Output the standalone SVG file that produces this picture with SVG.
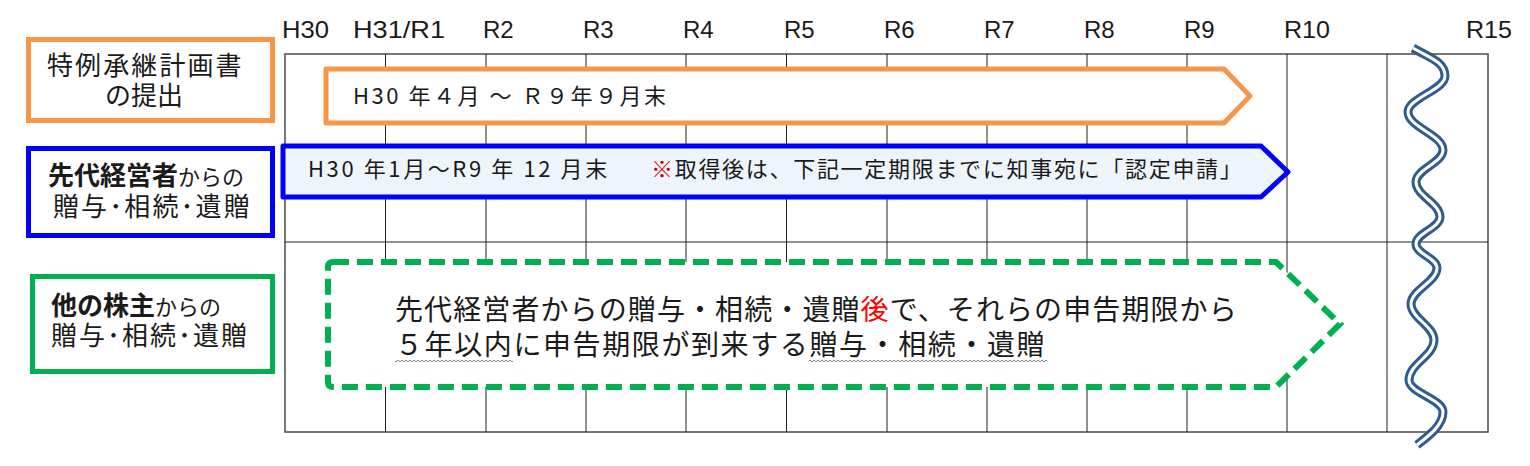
<svg xmlns="http://www.w3.org/2000/svg" width="1530" height="466" viewBox="0 0 1530 466">
  <style>
    .hdr { font-family: "Liberation Sans", Arial, sans-serif; font-size: 24px; fill: #1a1a1a; }
    .jp { font-family: "Noto Sans CJK JP", "Noto Sans", sans-serif; fill: #1a1a1a; }
    .grid { stroke: #222; stroke-width: 1; fill: none; }
    .border { stroke: #555; stroke-width: 1.6; fill: none; }
    .red { fill: #FF0000; }
    .dred { fill: #CC0000; }
  </style>
  <defs>
    <pattern id="wavy" patternUnits="userSpaceOnUse" x="0" y="359" width="4" height="4">
      <polyline points="0,3 2,1 4,3" fill="none" stroke="#777" stroke-width="0.9"/>
    </pattern>
  </defs>
  <rect width="1530" height="466" fill="#fff"/>

  <g id="header">
    <text class="hdr" x="282" y="38" textLength="47" lengthAdjust="spacingAndGlyphs">H30</text>
    <text class="hdr" x="353" y="38" textLength="92" lengthAdjust="spacingAndGlyphs">H31/R1</text>
    <text class="hdr" x="483" y="38">R2</text>
    <text class="hdr" x="583" y="38">R3</text>
    <text class="hdr" x="683" y="38">R4</text>
    <text class="hdr" x="784" y="38">R5</text>
    <text class="hdr" x="884" y="38">R6</text>
    <text class="hdr" x="984" y="38">R7</text>
    <text class="hdr" x="1084" y="38">R8</text>
    <text class="hdr" x="1184" y="38">R9</text>
    <text class="hdr" x="1284" y="38" textLength="46" lengthAdjust="spacingAndGlyphs">R10</text>
    <text class="hdr" x="1466" y="38" textLength="46" lengthAdjust="spacingAndGlyphs">R15</text>
  </g>

  <g id="grid">
    <rect class="border" x="285" y="54" width="1203" height="378"/>
    <path class="grid" d="M385.5,54V432 M486,54V432 M586,54V432 M686,54V432 M786.5,54V432 M887,54V432 M987,54V432 M1087,54V432 M1187,54V432 M1287,54V432 M1387,54V432 M285,242H1488"/>
  </g>

  <g id="box-plan">
    <rect x="28.5" y="39.5" width="244" height="81" fill="#fff" stroke="#F79646" stroke-width="5"/>
    <text class="jp" font-size="26"><tspan x="47" y="75" letter-spacing="2.1">特例承継計画書</tspan><tspan x="105" y="105">の提出</tspan></text>
  </g>

  <g id="box-senior">
    <rect x="28.5" y="148.5" width="244" height="87" fill="#fff" stroke="#0000FF" stroke-width="5"/>
    <text class="jp" font-size="26"><tspan x="48" y="185" font-weight="bold">先代経営者</tspan><tspan font-size="22">からの</tspan><tspan x="53" y="216" letter-spacing="2.1">贈与･相続･遺贈</tspan></text>
  </g>

  <g id="box-others">
    <rect x="32.5" y="276.5" width="240" height="95" fill="#fff" stroke="#00B050" stroke-width="5"/>
    <text class="jp" font-size="26"><tspan x="51" y="315" font-weight="bold">他の株主</tspan><tspan font-size="22">からの</tspan><tspan x="51" y="345" letter-spacing="2">贈与･相続･遺贈</tspan></text>
  </g>

  <g id="arrow-plan">
    <path d="M326,69 H1224 L1250,96 L1224,123 H326 Z" fill="#fff" stroke="#F79646" stroke-width="5" stroke-linejoin="round"/>
    <text class="jp" x="353" y="104" font-size="22" textLength="313" lengthAdjust="spacing">H30 年４月 ～ Ｒ９年９月末</text>
  </g>

  <g id="arrow-senior">
    <path d="M283,146 H1261 L1288,172 L1261,197 H283 Z" fill="#EEF5FA" stroke="#0000FF" stroke-width="5" stroke-linejoin="round"/>
    <text class="jp" x="308" y="177" font-size="22"><tspan x="308" letter-spacing="2.6">H30 年1月～R9 年 12 月末</tspan><tspan x="651" letter-spacing="1.7"><tspan class="dred">※</tspan>取得後は、下記一定期限までに知事宛に「認定申請」</tspan></text>
  </g>

  <g id="arrow-others">
    <path d="M333,262 H1276 L1340,324 L1276,387 H333 Q328,387 328,382 V267 Q328,262 333,262 Z" fill="#fff" stroke="#00B050" stroke-width="6" stroke-dasharray="16 8"/>
    <text class="jp" font-size="28"><tspan x="395" y="320" letter-spacing="1.1">先代経営者からの贈与・相続・遺贈<tspan class="red">後</tspan>で、それらの申告期限から</tspan><tspan x="395" y="355" letter-spacing="1.6">５年以内に申告期限が到来する贈与・相続・遺贈</tspan></text>
    <rect x="395" y="359" width="118" height="4" fill="url(#wavy)"/>
    <rect x="809" y="359" width="238" height="4" fill="url(#wavy)"/>
  </g>

  <g id="break-wave">
    <path d="M1413,48 C1430,58 1445,62 1445,76 C1445,90 1408,98 1408,112 C1408,127 1443,135 1443,150 C1443,163 1416,169 1416,182 C1416,196 1440,203 1440,217 C1440,228 1416,233 1416,244 C1416,254 1437,258 1437,268 C1437,282 1411,290 1411,304 C1411,318 1434,326 1434,340 C1434,356 1409,364 1409,380 C1409,393 1443,399 1443,412 C1443,425 1430,435 1417,445" fill="none" stroke="#2F5B8F" stroke-width="9"/>
    <path d="M1413,48 C1430,58 1445,62 1445,76 C1445,90 1408,98 1408,112 C1408,127 1443,135 1443,150 C1443,163 1416,169 1416,182 C1416,196 1440,203 1440,217 C1440,228 1416,233 1416,244 C1416,254 1437,258 1437,268 C1437,282 1411,290 1411,304 C1411,318 1434,326 1434,340 C1434,356 1409,364 1409,380 C1409,393 1443,399 1443,412 C1443,425 1430,435 1417,445" fill="none" stroke="#fff" stroke-width="3"/>
  </g>
</svg>
